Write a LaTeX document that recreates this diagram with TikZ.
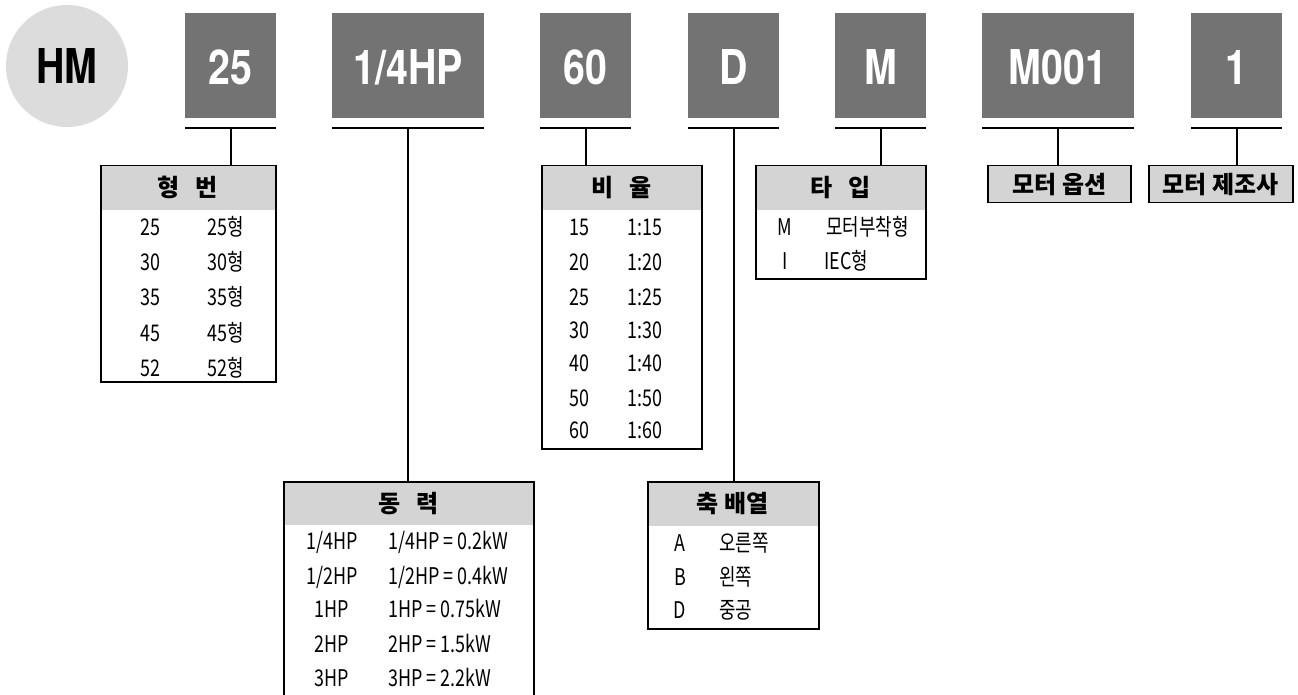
\documentclass[tikz,border=0pt]{standalone}
\usepackage{fontspec}
\setmainfont{Noto Sans CJK KR}
\newfontfamily\cellfnt[FakeStretch=0.78]{Noto Sans CJK KR}
\newfontfamily\hdfnt{Noto Sans CJK KR}
\newfontfamily\bigfnt[FakeStretch=0.82]{TeX Gyre Heros}
\definecolor{codegray}{RGB}{115,115,115}
\definecolor{circgray}{RGB}{220,220,220}
\definecolor{hdrgray}{RGB}{212,212,212}
\begin{document}
\begin{tikzpicture}[x=1pt,y=-1pt,
  codebox/.style={fill=codegray, text=white, font=\bigfnt\bfseries\fontsize{48}{48}\selectfont, minimum height=105pt, inner sep=0pt, text height=38.5pt, text depth=0pt, anchor=north west},
  bar/.style={line width=2pt},
  conn/.style={line width=2pt},
  hdr/.style={fill=hdrgray, font=\hdfnt\bfseries\fontsize{24}{24}\selectfont, inner sep=0pt, anchor=north west},
  frame/.style={draw, line width=1.5pt, inner sep=0pt, anchor=north west},
  cell/.style={font=\cellfnt\fontsize{23}{23}\selectfont, inner sep=0pt, anchor=base},
  cellw/.style={cell, anchor=base west}
]
\clip (0,0) rectangle (1298,695);
\fill[white] (0,0) rectangle (1298,695);

% HM circle
\node[circle, fill=circgray, minimum size=122pt, inner sep=0pt, text=black,
      font=\bigfnt\bfseries\fontsize{48}{48}\selectfont] (hm) at (67,66) {HM};

% code boxes
\node[codebox, minimum width=91pt]  (b1) at (185,13) {25};
\node[codebox, minimum width=152pt] (b2) at (332,13) {1/4HP};
\node[codebox, minimum width=91pt]  (b3) at (540,13) {60};
\node[codebox, minimum width=91pt]  (b4) at (688,13) {D};
\node[codebox, minimum width=91pt]  (b5) at (835,13) {M};
\node[codebox, minimum width=152pt] (b6) at (982,13) {M001};
\node[codebox, minimum width=91pt]  (b7) at (1191,13) {1};

% underlines
\foreach \i in {1,...,7}{
  \coordinate (u\i) at ([yshift=-10pt]b\i.south);
  \draw[bar] (b\i.south west |- u\i) -- (b\i.south east |- u\i);
}

% ---- table 1: 형번
\node[hdr, minimum width=175pt, minimum height=45pt] (h1) at (100,165) {형\hspace{16pt}번};
\node[frame, minimum width=175pt, minimum height=216pt] (t1) at (100,165) {};
\foreach \y/\a/\b [count=\i] in {227/25/25형, 262/30/30형, 297/35/35형, 333/45/45형, 368/52/52형}{
  \node[cell] (t1a\i) at (150,\y+8) {\a};
  \node[cell] (t1b\i) at (226,\y+8) {\b};
}

% ---- table 2: 비율
\node[hdr, minimum width=160pt, minimum height=45pt] (h2) at (541,165) {비\hspace{16pt}율};
\node[frame, minimum width=160pt, minimum height=283pt] (t2) at (541,165) {};
\foreach \y/\a/\b [count=\i] in {227/15/1:15, 262/20/1:20, 297/25/1:25, 330/30/1:30, 363/40/1:40, 398/50/1:50, 430/60/1:60}{
  \node[cell] (t2a\i) at (579,\y+8) {\a};
  \node[cell] (t2b\i) at (645,\y+8) {\b};
}

% ---- table 3: 타입
\node[hdr, minimum width=170pt, minimum height=45pt] (h3) at (755,165) {타\hspace{16pt}입};
\node[frame, minimum width=170pt, minimum height=113pt] (t3) at (755,165) {};
\node[cell]  (t3a1) at (785,236) {M};
\node[cellw] (t3b1) at (826,236) {모터부착형};
\node[cell]  (t3a2) at (785,269) {I};
\node[cellw] (t3b2) at (824,269) {IEC형};

% ---- boxes 4,5
\node[hdr, draw, line width=1.5pt, minimum width=143pt, minimum height=37pt] (t4) at (987,165) {모터 옵션};
\node[hdr, draw, line width=1.5pt, minimum width=144pt, minimum height=37pt] (t5) at (1148,165) {모터 제조사};

% ---- table 6: 동력
\node[hdr, minimum width=250pt, minimum height=44pt] (h6) at (283,481) {동\hspace{16pt}력};
\node[frame, minimum width=250pt, minimum height=240pt] (t6) at (283,481) {};
\node[cell]  (t6a1) at (332,549) {1/4HP};
\node[cellw] (t6b1) at (388,549) {1/4HP = 0.2kW};
\node[cell]  (t6a2) at (332,584) {1/2HP};
\node[cellw] (t6b2) at (388,584) {1/2HP = 0.4kW};
\node[cell]  (t6a3) at (332,617) {1HP};
\node[cellw] (t6b3) at (388,617) {1HP = 0.75kW};
\node[cell]  (t6a4) at (332,652) {2HP};
\node[cellw] (t6b4) at (388,652) {2HP = 1.5kW};
\node[cell]  (t6a5) at (332,686) {3HP};
\node[cellw] (t6b5) at (388,686) {3HP = 2.2kW};

% ---- table 7: 축 배열
\node[hdr, minimum width=171pt, minimum height=45pt] (h7) at (647,481) {축 배열};
\node[frame, minimum width=171pt, minimum height=147pt] (t7) at (647,481) {};
\node[cell]  (t7a1) at (680,551) {A};
\node[cellw] (t7b1) at (719,551) {오른쪽};
\node[cell]  (t7a2) at (680,585) {B};
\node[cellw] (t7b2) at (719,585) {왼쪽};
\node[cell]  (t7a3) at (680,618) {D};
\node[cellw] (t7b3) at (719,618) {중공};

% ---- connectors
\draw[conn] (u1) -- (u1 |- t1.north);
\draw[conn] (u2) -- (u2 |- t6.north);
\draw[conn] (u3) -- (u3 |- t2.north);
\draw[conn] (u4) -- (u4 |- t7.north);
\draw[conn] (u5) -- (u5 |- t3.north);
\draw[conn] (u6) -- (u6 |- t4.north);
\draw[conn] (u7) -- (u7 |- t5.north);
\end{tikzpicture}
\end{document}
